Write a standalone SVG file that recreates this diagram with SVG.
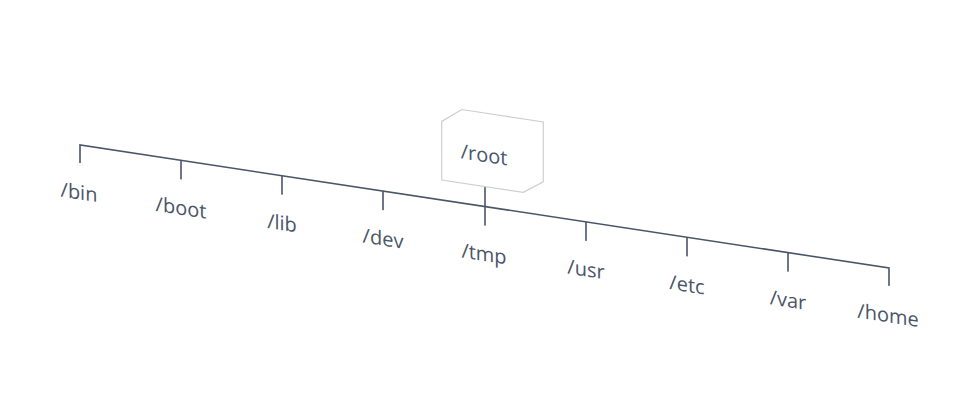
<svg xmlns="http://www.w3.org/2000/svg" width="975" height="410" viewBox="0 0 975 410">
<style>
.ln{stroke:#4a5568;stroke-width:1.6;fill:none}
.box{stroke:#cfcfcf;stroke-width:1.2;fill:#fff}
.lbl{font-family:"Open Sans","Noto Sans",sans-serif;font-size:20px;fill:#4a5568;text-anchor:middle}
</style>
<rect width="975" height="410" fill="#fff"/>
<g transform="matrix(1,0.152,0,1,0,-12.16)">
<g id="connectors">
<path class="ln" d="M80,163 V145 H889 V163"/>
<path class="ln" d="M181,145 V164 M282,145 V164 M383,145 V164 M586,145 V164 M687,145 V164 M788,145 V164"/>
<path class="ln" d="M485,125 V164"/>
</g>
<g id="root">
<path class="box" d="M461.7,51.5 H543.3 V111.3 L523.3,125 H441.7 V66.5 Z"/>
<text class="lbl" x="484" y="100.5">/root</text>
</g>
<g id="bin"><text class="lbl" x="79" y="199.5">/bin</text></g>
<g id="boot"><text class="lbl" x="181" y="199.5">/boot</text></g>
<g id="lib"><text class="lbl" x="282" y="199.5">/lib</text></g>
<g id="dev"><text class="lbl" x="383" y="199.5">/dev</text></g>
<g id="tmp"><text class="lbl" x="484" y="199.5">/tmp</text></g>
<g id="usr"><text class="lbl" x="586" y="199.5">/usr</text></g>
<g id="etc"><text class="lbl" x="687" y="199.5">/etc</text></g>
<g id="var"><text class="lbl" x="788" y="199.5">/var</text></g>
<g id="home"><text class="lbl" x="888" y="199.5">/home</text></g>
</g>
</svg>
